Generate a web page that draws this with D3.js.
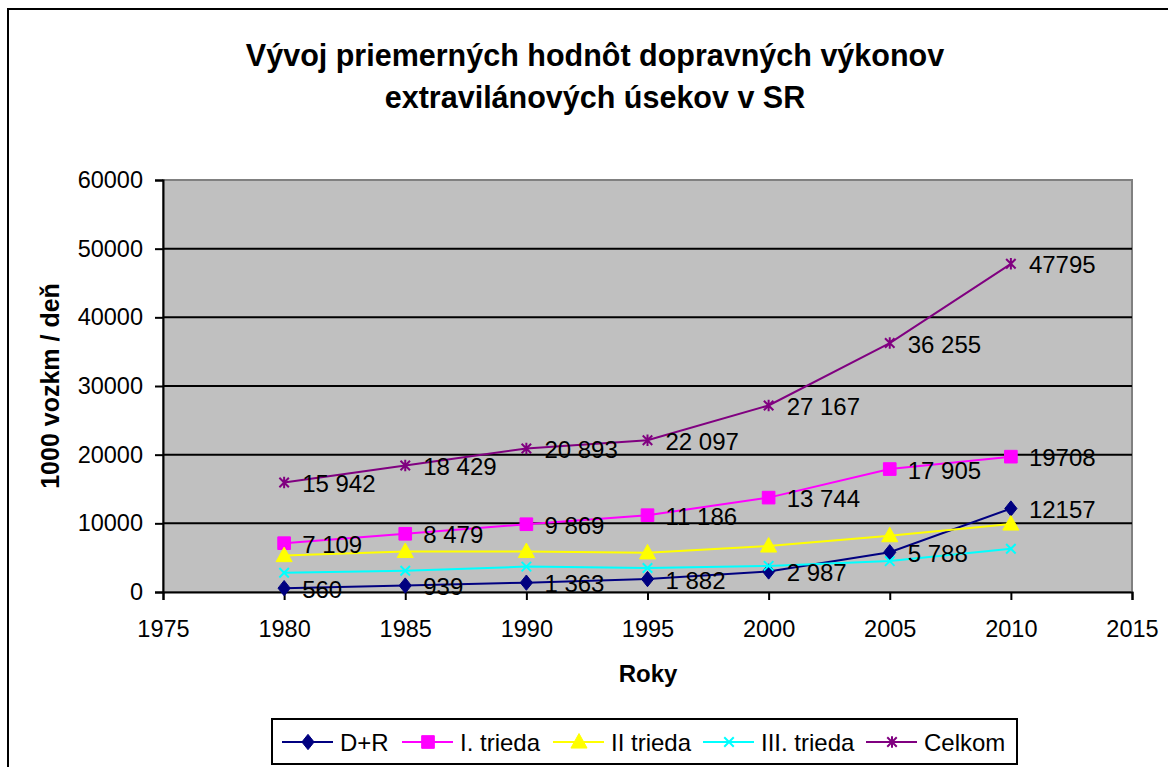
<!DOCTYPE html>
<html>
<head>
<meta charset="utf-8">
<script src="https://cdn.jsdelivr.net/npm/d3@7"></script>
<style>
  body { margin: 0; background: #fff; }
  svg { display: block; font-family: "Liberation Sans", Arial, sans-serif; }
</style>
</head>
<body>
<svg id="chart" width="1168" height="767"></svg>
<script>
const years = [1980, 1985, 1990, 1995, 2000, 2005, 2010]
const xTicks = [1975, 1980, 1985, 1990, 1995, 2000, 2005, 2010, 2015]
const yTicks = [0, 10000, 20000, 30000, 40000, 50000, 60000]

const seriesNames = ['D+R', 'I. trieda', 'II trieda', 'III. trieda', 'Celkom']
const dr = [560, 939, 1363, 1882, 2987, 5788, 12157]
const trieda1 = [7109, 8479, 9869, 11186, 13744, 17905, 19708]
const trieda2 = [5300, 5900, 5900, 5700, 6700, 8200, 9900]
const trieda3 = [2800, 3100, 3700, 3500, 3800, 4500, 6300]
const celkom = [15942, 18429, 20893, 22097, 27167, 36255, 47795]

const drLabels = ['560', '939', '1 363', '1 882', '2 987', '5 788', '12157']
const trieda1Labels = ['7 109', '8 479', '9 869', '11 186', '13 744', '17 905', '19708']
const celkomLabels = ['15 942', '18 429', '20 893', '22 097', '27 167', '36 255', '47795']

const titleLines = ['Vývoj priemerných hodnôt dopravných výkonov', 'extravilánových úsekov v SR']

const plot = { left: 163, right: 1132, top: 180, bottom: 592 }

const svg = d3.select('#chart')

// custom marker shapes
const xMark = {
  draw(ctx, size) {
    const r = Math.sqrt(size) / 2
    ctx.moveTo(-r, -r); ctx.lineTo(r, r)
    ctx.moveTo(-r, r); ctx.lineTo(r, -r)
  },
}
const starMark = {
  draw(ctx, size) {
    const r = Math.sqrt(size) / 2
    ctx.moveTo(-r, -r); ctx.lineTo(r, r)
    ctx.moveTo(-r, r); ctx.lineTo(r, -r)
    ctx.moveTo(0, -r * 1.2); ctx.lineTo(0, r * 1.2)
  },
}
const diamondMark = {
  draw(ctx, size) {
    const w = Math.sqrt(size) / 2
    const h = w * 1.25
    ctx.moveTo(0, -h); ctx.lineTo(w, 0); ctx.lineTo(0, h); ctx.lineTo(-w, 0); ctx.closePath()
  },
}
const squareMark = {
  draw(ctx, size) {
    const r = Math.sqrt(size) / 2
    ctx.rect(-r, -r, 2 * r, 2 * r)
  },
}
const triMark = {
  draw(ctx, size) {
    const r = Math.sqrt(size) / 2
    ctx.moveTo(0, -r * 1.05); ctx.lineTo(r, r * 0.75); ctx.lineTo(-r, r * 0.75); ctx.closePath()
  },
}

const series = [
  { name: seriesNames[0], values: dr, labels: drLabels, color: '#000080', mark: diamondMark, size: 150, fill: true },
  { name: seriesNames[1], values: trieda1, labels: trieda1Labels, color: '#FF00FF', mark: squareMark, size: 160, fill: true },
  { name: seriesNames[2], values: trieda2, labels: null, color: '#FFFF00', mark: triMark, size: 260, fill: true },
  { name: seriesNames[3], values: trieda3, labels: null, color: '#00FFFF', mark: xMark, size: 90, fill: false },
  { name: seriesNames[4], values: celkom, labels: celkomLabels, color: '#800080', mark: starMark, size: 90, fill: false },
]

// outer frame
svg.append('rect')
  .attr('x', 8).attr('y', 9)
  .attr('width', 1200).attr('height', 800)
  .attr('fill', 'none').attr('stroke', '#000').attr('stroke-width', 2)

// title
svg.append('text')
  .attr('text-anchor', 'middle')
  .style('font-size', '30.5px')
  .style('font-weight', 'bold')
  .selectAll('tspan')
  .data(titleLines)
  .enter()
  .append('tspan')
  .attr('x', 595)
  .attr('y', (d, i) => 66 + i * 42)
  .text((d) => d)

const x = d3.scaleLinear().domain([1975, 2015]).range([plot.left, plot.right])
const y = d3.scaleLinear().domain([0, 60000]).range([plot.bottom, plot.top])

// plot area
svg.append('rect')
  .attr('x', plot.left).attr('y', plot.top)
  .attr('width', plot.right - plot.left).attr('height', plot.bottom - plot.top)
  .attr('fill', '#C0C0C0').attr('stroke', '#808080').attr('stroke-width', 2)

// gridlines
svg.append('g')
  .selectAll('line')
  .data(yTicks.filter((d) => d > 0 && d < 60000))
  .enter()
  .append('line')
  .attr('x1', plot.left).attr('x2', plot.right)
  .attr('y1', (d) => y(d)).attr('y2', (d) => y(d))
  .attr('stroke', '#000').attr('stroke-width', 2)

// axes
const xAxis = svg.append('g')
  .attr('transform', `translate(0, ${plot.bottom})`)
  .call(d3.axisBottom(x).tickValues(xTicks).tickFormat((d) => d).tickSize(8).tickPadding(20))
const yAxis = svg.append('g')
  .attr('transform', `translate(${plot.left}, 0)`)
  .call(d3.axisLeft(y).tickValues(yTicks).tickFormat((d) => d).tickSize(8).tickPadding(12))

;[xAxis, yAxis].forEach((ax) => {
  ax.select('.domain').attr('stroke', '#000').attr('stroke-width', 2)
  ax.selectAll('.tick line').attr('stroke', '#000').attr('stroke-width', 2)
  ax.selectAll('.tick text')
    .attr('fill', '#000')
    .style('font-size', '23.5px')
    .style('font-family', '"Liberation Sans", Arial, sans-serif')
})

// axis titles
svg.append('text')
  .attr('text-anchor', 'middle')
  .attr('x', 648).attr('y', 682)
  .style('font-size', '24px').style('font-weight', 'bold')
  .text('Roky')

svg.append('text')
  .attr('text-anchor', 'middle')
  .attr('transform', `translate(59, ${(plot.top + plot.bottom) / 2}) rotate(-90)`)
  .style('font-size', '25px').style('font-weight', 'bold')
  .text('1000 vozkm / deň')

// lines + markers
const line = d3.line()
  .x((d) => x(d[0]))
  .y((d) => y(d[1]))

series.forEach((s) => {
  const pts = years.map((yr, i) => [yr, s.values[i]])
  const g = svg.append('g')
  g.append('path')
    .datum(pts)
    .attr('d', line)
    .attr('fill', 'none')
    .attr('stroke', s.color)
    .attr('stroke-width', 2)

  g.selectAll('.mark')
    .data(pts)
    .enter()
    .append('path')
    .attr('class', 'mark')
    .attr('transform', (d) => `translate(${x(d[0])}, ${y(d[1])})`)
    .attr('d', d3.symbol().type(s.mark).size(s.size))
    .attr('fill', s.fill ? s.color : 'none')
    .attr('stroke', s.color)
    .attr('stroke-width', s.fill ? 1 : 2)
})

// data labels (drawn after all lines)
series.filter((s) => s.labels).forEach((s) => {
  svg.append('g')
    .selectAll('text')
    .data(years.map((yr, i) => [yr, s.values[i], s.labels[i]]))
    .enter()
    .append('text')
    .attr('x', (d) => x(d[0]) + 18)
    .attr('y', (d) => y(d[1]) + 1)
    .attr('dy', '0.36em')
    .style('font-size', '24px')
    .attr('fill', '#000')
    .text((d) => d[2])
})

// legend
const legend = svg.append('g')
legend.append('rect')
  .attr('x', 272).attr('y', 719)
  .attr('width', 745).attr('height', 45)
  .attr('fill', '#fff').attr('stroke', '#000').attr('stroke-width', 2)

const legendX = [282, 402, 553, 703, 866]
series.forEach((s, i) => {
  const lx = legendX[i]
  const ly = 742
  legend.append('line')
    .attr('x1', lx).attr('x2', lx + 51)
    .attr('y1', ly).attr('y2', ly)
    .attr('stroke', s.color).attr('stroke-width', 2)
  legend.append('path')
    .attr('transform', `translate(${lx + 26}, ${ly})`)
    .attr('d', d3.symbol().type(s.mark).size(s.size))
    .attr('fill', s.fill ? s.color : 'none')
    .attr('stroke', s.color)
    .attr('stroke-width', s.fill ? 1 : 2)
  legend.append('text')
    .attr('x', lx + 58).attr('y', ly)
    .attr('dy', '0.36em')
    .style('font-size', '24px')
    .text(s.name)
})
</script>
</body>
</html>
